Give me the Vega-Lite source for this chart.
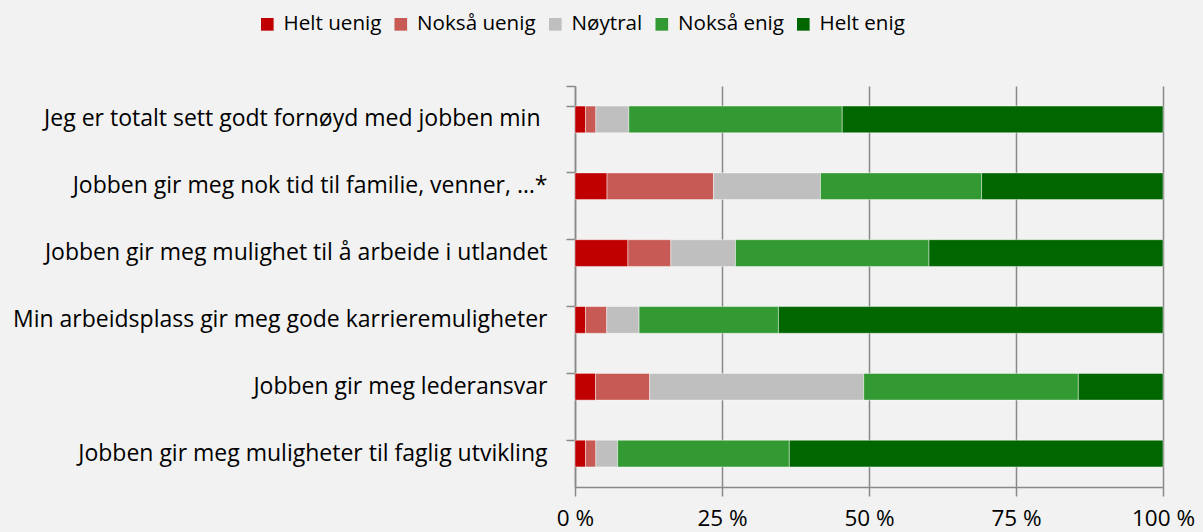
{
  "$schema": "https://vega.github.io/schema/vega-lite/v6.json",
  "width": 588,
  "height": 401,
  "autosize": {"type": "none"},
  "padding": {"left": 575, "top": 86, "right": 40, "bottom": 45},
  "background": "#F2F2F2",
  "config": {
    "view": {"stroke": null},
    "font": "Open Sans",
    "axis": {"labelFont": "Open Sans", "labelColor": "#000000"},
    "legend": {"labelFont": "Open Sans"}
  },
  "data": {
    "values": [
      {"q": "Jeg er totalt sett godt fornøyd med jobben min", "r": "Helt uenig", "o": 1, "v": 1.8},
      {"q": "Jeg er totalt sett godt fornøyd med jobben min", "r": "Nokså uenig", "o": 2, "v": 1.75},
      {"q": "Jeg er totalt sett godt fornøyd med jobben min", "r": "Nøytral", "o": 3, "v": 5.6},
      {"q": "Jeg er totalt sett godt fornøyd med jobben min", "r": "Nokså enig", "o": 4, "v": 36.3},
      {"q": "Jeg er totalt sett godt fornøyd med jobben min", "r": "Helt enig", "o": 5, "v": 54.55},
      {"q": "Jobben gir meg nok tid til familie, venner, …*", "r": "Helt uenig", "o": 1, "v": 5.45},
      {"q": "Jobben gir meg nok tid til familie, venner, …*", "r": "Nokså uenig", "o": 2, "v": 18.1},
      {"q": "Jobben gir meg nok tid til familie, venner, …*", "r": "Nøytral", "o": 3, "v": 18.2},
      {"q": "Jobben gir meg nok tid til familie, venner, …*", "r": "Nokså enig", "o": 4, "v": 27.4},
      {"q": "Jobben gir meg nok tid til familie, venner, …*", "r": "Helt enig", "o": 5, "v": 30.85},
      {"q": "Jobben gir meg mulighet til å arbeide i utlandet", "r": "Helt uenig", "o": 1, "v": 9.0},
      {"q": "Jobben gir meg mulighet til å arbeide i utlandet", "r": "Nokså uenig", "o": 2, "v": 7.3},
      {"q": "Jobben gir meg mulighet til å arbeide i utlandet", "r": "Nøytral", "o": 3, "v": 11.0},
      {"q": "Jobben gir meg mulighet til å arbeide i utlandet", "r": "Nokså enig", "o": 4, "v": 32.9},
      {"q": "Jobben gir meg mulighet til å arbeide i utlandet", "r": "Helt enig", "o": 5, "v": 39.8},
      {"q": "Min arbeidsplass gir meg gode karrieremuligheter", "r": "Helt uenig", "o": 1, "v": 1.8},
      {"q": "Min arbeidsplass gir meg gode karrieremuligheter", "r": "Nokså uenig", "o": 2, "v": 3.6},
      {"q": "Min arbeidsplass gir meg gode karrieremuligheter", "r": "Nøytral", "o": 3, "v": 5.5},
      {"q": "Min arbeidsplass gir meg gode karrieremuligheter", "r": "Nokså enig", "o": 4, "v": 23.7},
      {"q": "Min arbeidsplass gir meg gode karrieremuligheter", "r": "Helt enig", "o": 5, "v": 65.4},
      {"q": "Jobben gir meg lederansvar", "r": "Helt uenig", "o": 1, "v": 3.5},
      {"q": "Jobben gir meg lederansvar", "r": "Nokså uenig", "o": 2, "v": 9.2},
      {"q": "Jobben gir meg lederansvar", "r": "Nøytral", "o": 3, "v": 36.4},
      {"q": "Jobben gir meg lederansvar", "r": "Nokså enig", "o": 4, "v": 36.5},
      {"q": "Jobben gir meg lederansvar", "r": "Helt enig", "o": 5, "v": 14.4},
      {"q": "Jobben gir meg muligheter til faglig utvikling", "r": "Helt uenig", "o": 1, "v": 1.8},
      {"q": "Jobben gir meg muligheter til faglig utvikling", "r": "Nokså uenig", "o": 2, "v": 1.75},
      {"q": "Jobben gir meg muligheter til faglig utvikling", "r": "Nøytral", "o": 3, "v": 3.7},
      {"q": "Jobben gir meg muligheter til faglig utvikling", "r": "Nokså enig", "o": 4, "v": 29.2},
      {"q": "Jobben gir meg muligheter til faglig utvikling", "r": "Helt enig", "o": 5, "v": 63.55}
    ]
  },
  "mark": {"type": "bar", "stroke": "#ffffff", "strokeOpacity": 0.55, "strokeWidth": 0.8},
  "encoding": {
    "y": {
      "field": "q",
      "type": "nominal",
      "sort": null,
      "scale": {"paddingInner": 0.6, "paddingOuter": 0.3},
      "axis": {
        "title": null,
        "labelFontSize": 23,
        "labelPadding": {"condition": {"test": "indexof(datum.label, 'Jeg') === 0", "value": 26}, "value": 19},
        "labelLimit": 600,
        "tickSize": 9,
        "tickColor": "#898989",
        "tickWidth": 1.5,
        "bandPosition": 0,
        "tickExtra": true,
        "domainColor": "#898989",
        "domainWidth": 1.5
      }
    },
    "x": {
      "field": "v",
      "type": "quantitative",
      "stack": "normalize",
      "scale": {"domain": [0, 1], "nice": false},
      "axis": {
        "title": null,
        "values": [0, 0.25, 0.5, 0.75, 1],
        "labelExpr": "format(datum.value * 100, 'd') + ' %'",
        "labelFontSize": 22.5,
        "labelFlush": false,
        "labelPadding": 11,
        "tickSize": 9,
        "tickColor": "#898989",
        "tickWidth": 1.5,
        "grid": true,
        "gridColor": "#898989",
        "gridWidth": 1.5,
        "domainColor": "#898989",
        "domainWidth": 1.5
      }
    },
    "color": {
      "field": "r",
      "type": "nominal",
      "scale": {
        "domain": ["Helt uenig", "Nokså uenig", "Nøytral", "Nokså enig", "Helt enig"],
        "range": ["#C00000", "#C85A55", "#BFBFBF", "#339933", "#006600"]
      },
      "legend": {
        "title": null,
        "orient": "none",
        "direction": "horizontal",
        "legendX": -318,
        "legendY": -72,
        "symbolType": "square",
        "symbolSize": 160,
        "symbolStrokeWidth": 0,
        "labelFontSize": 20.6,
        "labelColor": "#000000",
        "labelOffset": 6,
        "columnPadding": 8.5
      }
    },
    "order": {"field": "o", "type": "quantitative"}
  }
}
